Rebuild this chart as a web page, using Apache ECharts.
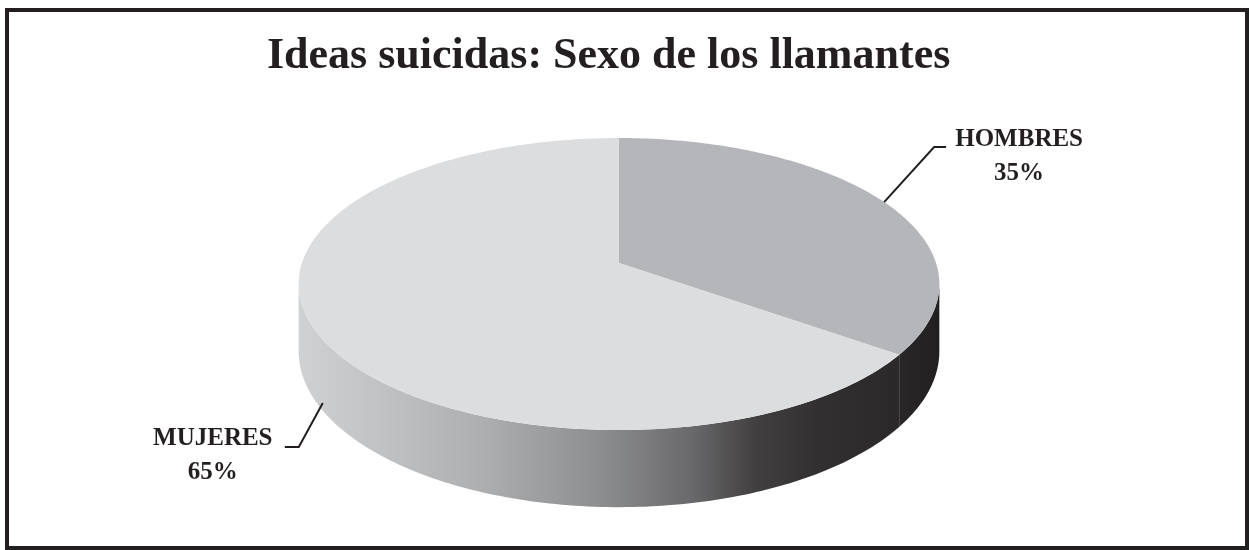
<!DOCTYPE html>
<html>
<head>
<meta charset="utf-8">
<script src="https://cdn.jsdelivr.net/npm/echarts@6/dist/echarts.min.js"></script>
<style>
html,body{margin:0;padding:0;background:#fff;}
#chart{width:1250px;height:550px;}
</style>
</head>
<body>
<div id="chart"></div>
<script>
// ---- data ----
const titleText = 'Ideas suicidas: Sexo de los llamantes';
const categories = ['HOMBRES', 'MUJERES'];
const values = [35, 65];
const percentLabels = ['35%', '65%'];

// ---- styling / layout ----
const topColors = ['#b5b6ba', '#dcdddf'];
const INK = '#231f20';
const CX = 619, CY = 263, RX = 317, RY = 143, K = 0.144, DEPTH = 66;
const SIL = Math.acos(-K) * 180 / Math.PI; // silhouette angle (deg, clockwise from top)

function proj(deg, z) {
  const r = deg * Math.PI / 180;
  const u = Math.sin(r), v = Math.cos(r);
  const w = 1 + K * v;
  return [CX + RX * u / w, CY - RY * v / w + DEPTH * z / w];
}
function arc(a, b, z) {
  const pts = [];
  const n = Math.max(2, Math.ceil(Math.abs(b - a)));
  for (let i = 0; i <= n; i++) pts.push(proj(a + (b - a) * i / n, z));
  return pts;
}

const total = values.reduce((s, v) => s + v, 0);

const chart = echarts.init(document.getElementById('chart'), null, {renderer: 'canvas'});

function renderItem(params, api) {
  const i = params.dataIndex;
  const val = api.value(0);
  let before = 0;
  for (let j = 0; j < i; j++) before += values[j];
  const a0 = before / total * 360;
  const a1 = a0 + val / total * 360;
  const children = [];

  // side wall (front-facing part)
  const s = Math.max(a0, SIL), e = Math.min(a1, 360 - SIL);
  if (e > s) {
    const pts = arc(s, e, 0).concat(arc(e, s, 1));
    let fill;
    if (i === 0) {
      fill = new echarts.graphic.LinearGradient(880, 0, 940, 0, [
        {offset: 0, color: '#2d2a2b'}, {offset: 1, color: '#221f20'}
      ], true);
    } else {
      fill = new echarts.graphic.LinearGradient(300, 0, 900, 0, [
        {offset: 0, color: '#d0d1d3'},
        {offset: 0.3, color: '#aeafb1'},
        {offset: 0.5, color: '#8d8e90'},
        {offset: 0.65, color: '#6a6a6c'},
        {offset: 0.76, color: '#423f40'},
        {offset: 0.86, color: '#333031'},
        {offset: 1, color: '#2b2829'}
      ], true);
    }
    children.push({type: 'polygon', z2: 1, shape: {points: pts}, style: {fill: fill, stroke: null}});
  }

  // top face
  const topPts = [[CX, CY]].concat(arc(a0, a1, 0));
  children.push({type: 'polygon', z2: 10, shape: {points: topPts}, style: {fill: topColors[i], stroke: null}});

  // leader line + label
  const mid = (a0 + a1) / 2;
  const vm = Math.cos(mid * Math.PI / 180);
  const um = Math.sin(mid * Math.PI / 180);
  const anchor = proj(mid, vm < -K ? 1 : 0);
  let elbow, end, tx, ty;
  if (um >= 0) {
    elbow = [anchor[0] + 50, anchor[1] - 55];
    end = [elbow[0] + 12, elbow[1]];
    tx = end[0] + 73; ty = end[1] + 9.5;
  } else {
    anchor[0] += 6;
    elbow = [anchor[0] - 24, anchor[1] + 44];
    end = [elbow[0] - 14, elbow[1]];
    tx = end[0] - 72; ty = end[1] + 8.5;
  }
  children.push({type: 'polyline', z2: 20, shape: {points: [anchor, elbow, end]},
    style: {stroke: INK, lineWidth: 2, fill: null}});
  children.push({type: 'text', z2: 20, style: {
    text: categories[i] + '\n' + percentLabels[i],
    x: tx, y: ty, align: 'center', verticalAlign: 'middle',
    fontFamily: 'Liberation Serif', fontWeight: 'bold', fontSize: 25,
    lineHeight: 34, fill: INK
  }});
  return {type: 'group', children: children};
}

const option = {
  backgroundColor: '#ffffff',
  animation: false,
  title: {
    text: titleText,
    left: 262,
    top: 30,
    textStyle: {fontFamily: 'Liberation Serif', fontWeight: 'bold', fontSize: 44, color: INK}
  },
  graphic: [{
    type: 'rect', z: -1,
    shape: {x: 7, y: 10, width: 1240, height: 538},
    style: {fill: 'none', stroke: INK, lineWidth: 4}
  }],
  series: [{
    type: 'custom',
    coordinateSystem: 'none',
    renderItem: renderItem,
    data: categories.map((c, i) => ({name: c, value: [values[i]]}))
  }]
};
chart.setOption(option);
</script>
</body>
</html>
